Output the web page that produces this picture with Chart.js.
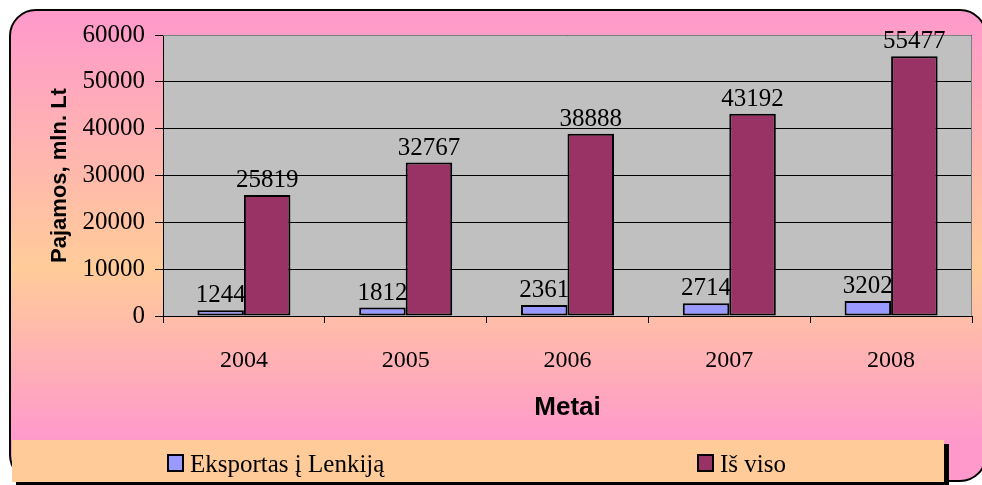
<!DOCTYPE html>
<html>
<head>
<meta charset="utf-8">
<script src="https://cdn.jsdelivr.net/npm/chart.js@4.4.1/dist/chart.umd.min.js"></script>
<style>
  html, body { margin: 0; padding: 0; background: #ffffff; }
  #chart { display: block; }
</style>
</head>
<body>
<canvas id="chart" width="982" height="485"></canvas>
<script>
// Data
const years = ["2004", "2005", "2006", "2007", "2008"];
const exportToPoland = [1244, 1812, 2361, 2714, 3202];
const total = [25819, 32767, 38888, 43192, 55477];
const seriesNames = ["Eksportas į Lenkiją", "Iš viso"];
const yTicks = [0, 10000, 20000, 30000, 40000, 50000, 60000];

const serif = '"Liberation Serif", "Times New Roman", serif';
const sans = '"Liberation Sans", Arial, sans-serif';

// Frame, gradient, plot background, legend and value labels
const decor = {
  id: "decor",
  beforeDraw(chart) {
    const ctx = chart.ctx;
    const area = chart.chartArea;
    ctx.save();
    // outer rounded frame with gradient
    const grad = ctx.createLinearGradient(0, 10, 0, 440);
    grad.addColorStop(0, "#ff99cc");
    grad.addColorStop(0.6, "#ffcc99");
    grad.addColorStop(1, "#ff99cc");
    ctx.beginPath();
    ctx.roundRect(10, 10, 976, 471, 26);
    ctx.fillStyle = grad;
    ctx.fill();
    ctx.lineWidth = 2;
    ctx.strokeStyle = "#000000";
    ctx.stroke();
    // plot area
    ctx.fillStyle = "#c0c0c0";
    ctx.fillRect(area.left, area.top, area.right - area.left, area.bottom - area.top);
    ctx.restore();
  },
  beforeDatasetsDraw(chart) {
    const ctx = chart.ctx;
    const area = chart.chartArea;
    ctx.save();
    ctx.strokeStyle = "#808080";
    ctx.lineWidth = 1;
    ctx.beginPath();
    ctx.moveTo(area.left, area.top + 0.5);
    ctx.lineTo(area.right - 0.5, area.top + 0.5);
    ctx.lineTo(area.right - 0.5, area.bottom);
    ctx.stroke();
    ctx.restore();
  },
  afterDatasetsDraw(chart) {
    const ctx = chart.ctx;
    ctx.save();
    ctx.font = "25px " + serif;
    ctx.fillStyle = "#000000";
    ctx.textAlign = "center";
    ctx.textBaseline = "alphabetic";
    chart.data.datasets.forEach((ds, i) => {
      chart.getDatasetMeta(i).data.forEach((bar, j) => {
        ctx.fillText(String(ds.data[j]), bar.x, bar.y - 8);
      });
    });
    ctx.restore();
  },
  afterDraw(chart) {
    const ctx = chart.ctx;
    ctx.save();
    // legend box with shadow
    ctx.fillStyle = "#000000";
    ctx.fillRect(944, 444, 5, 41);
    ctx.fillRect(16, 482, 933, 3);
    ctx.fillStyle = "#ffcc99";
    ctx.fillRect(12, 440, 932, 42);
    ctx.font = "25px " + serif;
    ctx.textBaseline = "alphabetic";
    ctx.textAlign = "left";
    chart.data.datasets.forEach((ds, i) => {
      const x = 168 + i * 530;
      ctx.fillStyle = ds.backgroundColor;
      ctx.fillRect(x, 455, 15, 16);
      ctx.lineWidth = 2;
      ctx.strokeStyle = "#000000";
      ctx.strokeRect(x, 455, 15, 16);
      ctx.fillStyle = "#000000";
      ctx.fillText(ds.label, x + 22, 472);
    });
    ctx.restore();
  }
};

new Chart(document.getElementById("chart"), {
  type: "bar",
  plugins: [decor],
  data: {
    labels: years,
    datasets: [
      {
        label: seriesNames[0],
        data: exportToPoland,
        backgroundColor: "#9999ff",
        borderColor: "#000000",
        borderWidth: 2,
        borderSkipped: false
      },
      {
        label: seriesNames[1],
        data: total,
        backgroundColor: "#993366",
        borderColor: "#000000",
        borderWidth: 2,
        borderSkipped: false
      }
    ]
  },
  options: {
    responsive: false,
    devicePixelRatio: 1,
    animation: false,
    layout: { padding: { left: 0, top: 35, right: 10, bottom: 45 } },
    datasets: { bar: { barPercentage: 1, categoryPercentage: 0.575 } },
    plugins: {
      legend: { display: false },
      tooltip: { enabled: false }
    },
    scales: {
      x: {
        afterFit: (scale) => { scale.height = 124; },
        grid: {
          offset: true,
          drawOnChartArea: false,
          drawTicks: true,
          tickLength: 7,
          color: "#000000"
        },
        border: { color: "#000000", width: 1 },
        ticks: {
          color: "#000000",
          padding: 23,
          font: { family: serif, size: 24 }
        },
        title: {
          display: true,
          text: "Metai",
          color: "#000000",
          padding: { top: 0, bottom: 17 },
          font: { family: sans, size: 26, weight: "bold" }
        }
      },
      y: {
        min: 0,
        max: 60000,
        afterFit: (scale) => { scale.width = 163; },
        afterBuildTicks: (scale) => { scale.ticks = yTicks.map((v) => ({ value: v })); },
        grid: {
          color: "#000000",
          tickLength: 8,
          lineWidth: 1
        },
        border: { color: "#000000", width: 1 },
        ticks: {
          color: "#000000",
          padding: 10,
          font: { family: serif, size: 25 },
          callback: (value) => String(value)
        },
        title: {
          display: true,
          text: "Pajamos, mln. Lt",
          color: "#000000",
          padding: { top: 47, bottom: 0 },
          font: { family: sans, size: 22, weight: "bold" }
        }
      }
    }
  }
});
</script>
</body>
</html>
